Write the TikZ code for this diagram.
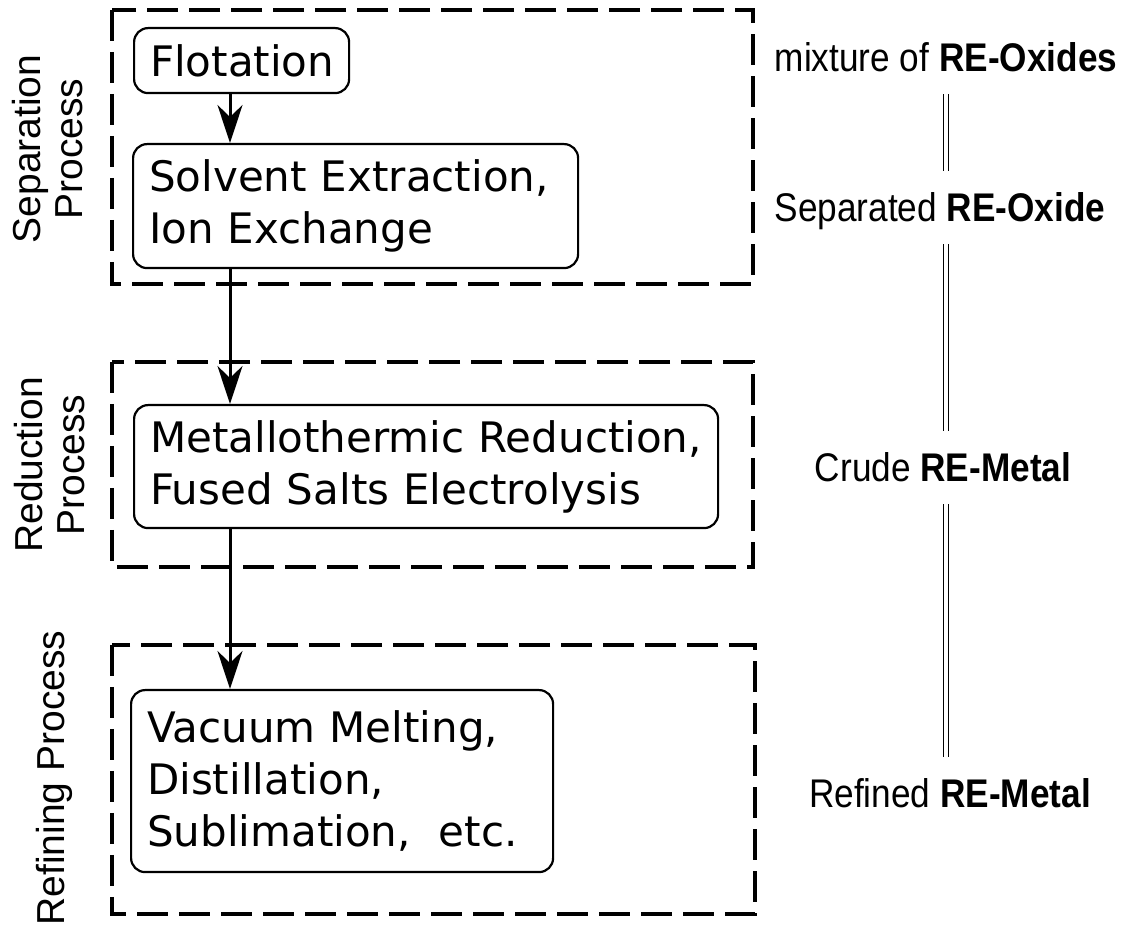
\documentclass[tikz,border=0pt]{standalone}
\usepackage{fontspec}
\setmainfont{DejaVu Sans}
\newfontfamily\labfont{Liberation Sans}
\newfontfamily\narrowfont[FakeStretch=0.88]{Liberation Sans}
\usetikzlibrary{arrows.meta}
\begin{document}
\begin{tikzpicture}[x=0.5pt,y=-0.5pt,
  stepbox/.style={draw, line width=1.1pt, rounded corners=7pt, anchor=north west,
    align=left, inner xsep=8pt, inner ysep=0pt, font=\fontsize{21}{26}\selectfont},
  groupbox/.style={draw, line width=1.8pt, dash pattern=on 15.5pt off 5.5pt},
  flow/.style={-{Stealth[length=19pt,width=12.5pt,inset=6pt]}, line width=1.5pt},
  proclabel/.style={rotate=90, align=center, inner sep=0pt,
    font=\labfont\fontsize{19.5}{21}\selectfont},
  result/.style={anchor=base, inner sep=0pt, text height=14.5pt, text depth=0pt,
    font=\narrowfont\fontsize{20}{24}\selectfont},
  eq/.style={double, line width=0.8pt, double distance=1.6pt,
    shorten <=11pt, shorten >=11pt}
]
\useasboundingbox (0,0) rectangle (1126,929);

% group boxes
\draw[groupbox] (112,10) rectangle (753,284);
\draw[groupbox] (112,362) rectangle (753,567);
\draw[groupbox] (112,645) rectangle (755,914);

% process labels
\node[proclabel] (lsep) at (48,149) {Separation\\Process};
\node[proclabel] (lred) at (50,465) {Reduction\\Process};
\node[proclabel] (lref) at (54,778) {Refining Process};

% steps
\node[stepbox, text width=91.5pt, minimum height=32.5pt] (flot) at (133,27)
  {\mbox{Flotation}};
\node[stepbox, text width=206.5pt, minimum height=62pt] (solv) at (132,143)
  {\mbox{Solvent Extraction,}\\\mbox{Ion Exchange}};
\node[stepbox, text width=276pt, minimum height=61.5pt] (metal) at (133,404)
  {\mbox{Metallothermic Reduction,}\\\mbox{Fused Salts Electrolysis}};
\node[stepbox, text width=195pt, minimum height=91pt] (vac) at (130,689)
  {\mbox{Vacuum Melting,}\\\mbox{Distillation,}\\\mbox{Sublimation,\ \ etc.}};

% arrows
\coordinate (ax) at (230,0);
\draw[flow] (ax |- flot.south) -- (ax |- solv.north);
\draw[flow] (ax |- solv.south) -- (ax |- metal.north);
\draw[flow] (ax |- metal.south) -- (ax |- vac.north);

% results
\node[result] (r1) at (946,72) {mixture of \textbf{RE-Oxides}};
\node[result] (r2) at (940,222) {Separated \textbf{RE-Oxide}};
\node[result] (r3) at (943,482) {Crude \textbf{RE-Metal}};
\node[result] (r4) at (950,808) {Refined \textbf{RE-Metal}};

\coordinate (ex) at (946,0);
\draw[eq] (ex |- r1.south) -- (ex |- r2.north);
\draw[eq] (ex |- r2.south) -- (ex |- r3.north);
\draw[eq] (ex |- r3.south) -- (ex |- r4.north);
\end{tikzpicture}
\end{document}
